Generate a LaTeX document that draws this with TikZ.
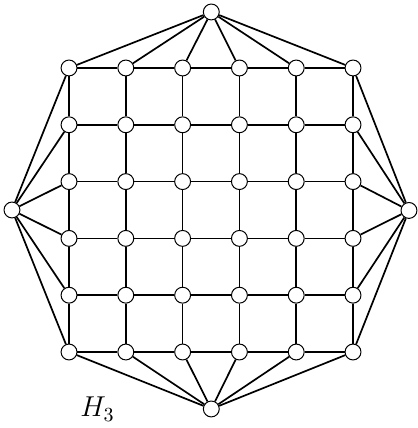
\documentclass[tikz,border=0pt]{standalone}
\usepackage{amsmath}
\usepackage{tikz}
\usetikzlibrary{positioning, calc}

\begin{document}
\begin{tikzpicture}[
  vtx/.style={circle, draw=black, line width=0.5pt, fill=white, minimum size=0.28cm, inner sep=0pt},
  edge/.style={line width=0.85pt},
  labeltext/.style={font=\Large, inner sep=0pt}
]
\useasboundingbox (0,0) rectangle (7.342, 7.535);

%% 6x6 grid of vertices
\foreach \i in {1,...,6} {
  \foreach \j in {1,...,6} {
    \node[vtx] (v-\i-\j) at (1.215+\i*1-1, 6.338-\j*1+1) {};
  }
}

%% apex vertices on the four sides
\node[vtx] (top) at (3.72, 7.324) {};
\node[vtx] (bot) at (3.72, 0.335) {};
\node[vtx] (lft) at (0.211, 3.838) {};
\node[vtx] (rgt) at (7.20, 3.83) {};

%% grid edges
\foreach \i in {1,...,6} {
  \foreach \j [count=\k from 2] in {1,...,5} {
    \draw[edge] (v-\i-\j) -- (v-\i-\k);
    \draw[edge] (v-\j-\i) -- (v-\k-\i);
  }
}

%% fans to the apex vertices
\foreach \i in {1,...,6} {
  \draw[edge] (top) -- (v-\i-1);
  \draw[edge] (bot) -- (v-\i-6);
  \draw[edge] (lft) -- (v-1-\i);
  \draw[edge] (rgt) -- (v-6-\i);
}

\node[labeltext] (name) at (1.717, 0.33) {$H_3$};
\end{tikzpicture}
\end{document}
